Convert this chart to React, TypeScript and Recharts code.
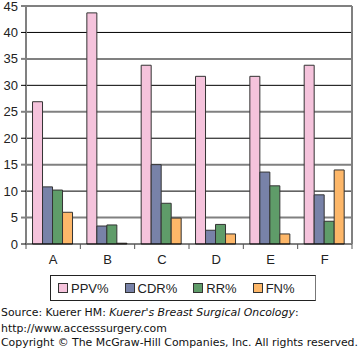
import { BarChart, Bar, XAxis, YAxis, CartesianGrid } from 'recharts';

const categories = ['A', 'B', 'C', 'D', 'E', 'F'];
const ppv = [26.9, 43.7, 33.8, 31.7, 31.7, 33.8];
const cdr = [10.8, 3.4, 15.0, 2.6, 13.6, 9.3];
const rr = [10.2, 3.6, 7.7, 3.7, 11.0, 4.3];
const fn = [6.0, 0.15, 4.9, 1.9, 1.9, 14.0];
const yTicks = [0, 5, 10, 15, 20, 25, 30, 35, 40, 45];

const series = [
  { key: 'ppv', name: 'PPV%', color: '#F5C3DC' },
  { key: 'cdr', name: 'CDR%', color: '#7882A8' },
  { key: 'rr', name: 'RR%', color: '#5F9C69' },
  { key: 'fn', name: 'FN%', color: '#FDB769' },
];

const data = categories.map((c, i) => ({ cat: c, ppv: ppv[i], cdr: cdr[i], rr: rr[i], fn: fn[i] }));

const W = 360;
const AXIS_W = 26;
const RIGHT_W = 8;
const band = (W - AXIS_W - RIGHT_W) / categories.length;

const YTick = ({ x, y, payload }: any) => {
  const odd = (payload.value / 5) % 2 === 1;
  return (
    <g>
      <line x1={x - 5} x2={x} y1={y} y2={y} stroke={odd ? '#808080' : '#000'} strokeWidth={odd ? 2 : 1} />
      <text x={x - 8} y={y} dy={4.5} textAnchor="end" fontSize={13} fill="#222" fontFamily="Liberation Sans, Arial, sans-serif">
        {payload.value}
      </text>
    </g>
  );
};

const XTick = ({ x, y, payload, index }: any) => (
  <g>
    {index === 0 && <line x1={x - band / 2} x2={x - band / 2} y1={y} y2={y + 5} stroke="#555" />}
    <line x1={x + band / 2} x2={x + band / 2} y1={y} y2={y + 5} stroke="#555" />
    <text x={x} y={y + 20} textAnchor="middle" fontSize={13} fill="#222" fontFamily="Liberation Sans, Arial, sans-serif">
      {payload.value}
    </text>
  </g>
);

export default function App() {
  return (
    <div style={{ position: 'absolute', left: 0, top: 0, width: 360, height: 357, background: '#fff', fontFamily: 'Liberation Sans, Arial, sans-serif' }}>
      <BarChart width={W} height={272} data={data} margin={{ top: 6, right: 0, left: 0, bottom: 0 }} barGap={0} barCategoryGap="12%">
        <CartesianGrid vertical={false} horizontalValues={[5, 15, 25, 35, 45]} stroke="#808080" strokeWidth={2} />
        <CartesianGrid vertical={false} horizontalValues={[10, 20, 30, 40]} stroke="#000" strokeWidth={1} />
        <XAxis dataKey="cat" height={28} tickLine={false} tickSize={0} tickMargin={0} axisLine={{ stroke: '#000' }} tick={<XTick />} interval={0} />
        <YAxis domain={[0, 45]} ticks={yTicks} width={AXIS_W} tickLine={false} tickSize={0} tickMargin={0} axisLine={{ stroke: '#808080', strokeWidth: 2 }} tick={<YTick />} interval={0} />
        <YAxis yAxisId="r" orientation="right" width={RIGHT_W} tick={false} tickLine={false} axisLine={{ stroke: '#808080', strokeWidth: 2 }} />
        {series.map(s => (
          <Bar key={s.key} dataKey={s.key} name={s.name} fill={s.color} stroke="#333" strokeWidth={1} isAnimationActive={false} />
        ))}
      </BarChart>
      <div style={{ position: 'absolute', left: 50, top: 275, width: 266, height: 26, boxSizing: 'border-box', border: '1px solid #222', borderRightColor: '#777', display: 'flex', alignItems: 'center', paddingLeft: 7, gap: 16 }}>
        {series.map(s => (
          <div key={s.key} style={{ display: 'flex', alignItems: 'center', fontSize: 13, color: '#222' }}>
            <span style={{ display: 'inline-block', width: 8, height: 8, background: s.color, border: '1px solid #333', marginRight: 3 }} />
            {s.name}
          </div>
        ))}
      </div>
      <div style={{ position: 'absolute', left: 1, top: 305, fontFamily: 'DejaVu Sans, Verdana, sans-serif', fontSize: 10.9, lineHeight: '15px', color: '#111', whiteSpace: 'nowrap' }}>
        <div>Source: Kuerer HM: <i>Kuerer's Breast Surgical Oncology</i>:</div>
        <div style={{ marginTop: 1 }}>http://www.accesssurgery.com</div>
        <div style={{ marginTop: -1 }}>Copyright © The McGraw-Hill Companies, Inc. All rights reserved.</div>
      </div>
    </div>
  );
}
